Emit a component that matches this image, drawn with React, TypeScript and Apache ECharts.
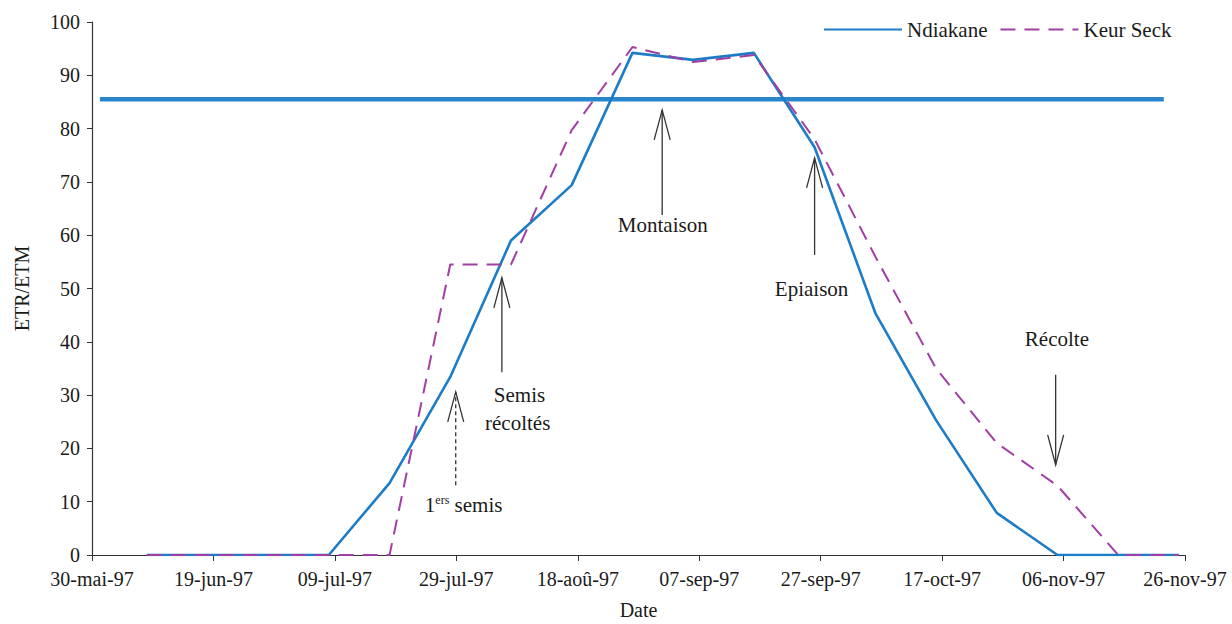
import { useEffect, useRef } from "react";
import * as echarts from "echarts";

// Day offsets from 30-mai-97
const days = [9, 19, 29, 39, 49, 59, 69, 79, 89, 99, 109, 119, 129, 139, 149, 159, 169, 179];
const ndiakane = [0, 0, 0, 0, 13.5, 33.4, 59, 69.4, 94.2, 92.9, 94.2, 76.5, 45.4, 25.3, 7.9, 0, 0, 0];
const keurSeck = [0, 0, 0, 0, 0, 54.5, 54.5, 79.7, 95.3, 92.5, 93.8, 78, 56, 35, 21, 13, 0, 0];
const refDays = [1.3, 176.5];
const refValues = [85.5, 85.5];
const xTickLabels = [
  "30-mai-97", "19-jun-97", "09-jul-97", "29-jul-97", "18-aoû-97",
  "07-sep-97", "27-sep-97", "17-oct-97", "06-nov-97", "26-nov-97",
];

const FONT = "Liberation Serif";
const TXT = "#1a1a1a";

// annotation arrows: x (day), tail value, tip value
const arrows = [
  { day: 93.9, tail: 63.8, tip: 83.5, dashed: false },
  { day: 119, tail: 56.3, tip: 74.5, dashed: false },
  { day: 67.5, tail: 34.3, tip: 52, dashed: false },
  { day: 59.9, tail: 13.1, tip: 30.6, dashed: true },
  { day: 158.7, tail: 33.8, tip: 16.9, dashed: false },
];
const labels = [
  { text: "Montaison", day: 94, value: 61.9 },
  { text: "Epiaison", day: 118.5, value: 49.9 },
  { text: "Semis", day: 70.4, value: 30 },
  { text: "récoltés", day: 70.1, value: 24.8 },
  { text: "{a|1}{s|ers}{a| semis}", day: 61.2, value: 9.4 },
  { text: "Récolte", day: 158.9, value: 40.5 },
];

export default function App() {
  const ref = useRef<HTMLDivElement>(null);
  useEffect(() => {
    document.body.style.margin = "0";
    const chart = echarts.init(ref.current!, null, { renderer: "svg" });
    const pair = (xs: number[], ys: number[]) => xs.map((x, i) => [x, ys[i]]);
    chart.setOption({
      animation: false,
      backgroundColor: "#ffffff",
      textStyle: { fontFamily: FONT },
      grid: { left: 92, right: 47, top: 22, bottom: 69, outerBoundsMode: "none", containLabel: false },
      legend: {
        left: 818,
        top: 14,
        itemWidth: 78,
        itemHeight: 14,
        itemGap: 12,
        data: ["Ndiakane", "Keur Seck"],
        itemStyle: { opacity: 0 },
        textStyle: { fontFamily: FONT, fontSize: 21, color: TXT },
      },
      xAxis: {
        type: "value",
        min: 0,
        max: 180,
        interval: 20,
        name: "Date",
        nameLocation: "middle",
        nameGap: 45,
        nameTextStyle: { fontFamily: FONT, fontSize: 20, color: TXT },
        axisLine: { lineStyle: { color: "#333", width: 1.2 } },
        axisTick: { show: true, length: 6, lineStyle: { color: "#333" } },
        splitLine: { show: false },
        axisLabel: {
          margin: 14,
          fontFamily: FONT,
          fontSize: 20,
          color: TXT,
          formatter: (v: number) => xTickLabels[Math.round(v / 20)] ?? "",
        },
      },
      yAxis: {
        type: "value",
        min: 0,
        max: 100,
        interval: 10,
        name: "ETR/ETM",
        nameLocation: "middle",
        nameGap: 60,
        nameTextStyle: { fontFamily: FONT, fontSize: 20, color: TXT },
        axisLine: { show: true, lineStyle: { color: "#333", width: 1.2 } },
        axisTick: { show: true, length: 5, lineStyle: { color: "#333" } },
        splitLine: { show: false },
        axisLabel: { margin: 12, fontFamily: FONT, fontSize: 20, color: TXT },
      },
      series: [
        {
          name: "Référence",
          type: "line",
          data: pair(refDays, refValues),
          symbol: "none",
          lineStyle: { color: "#2a86cc", width: 4.5 },
          z: 1,
        },
        {
          name: "Ndiakane",
          type: "line",
          data: pair(days, ndiakane),
          symbol: "none",
          color: "#1c7cc8",
          lineStyle: { color: "#1c7cc8", width: 2.6 },
          z: 3,
        },
        {
          name: "Keur Seck",
          type: "line",
          data: pair(days, keurSeck),
          symbol: "none",
          color: "#a03ea3",
          lineStyle: { color: "#a03ea3", width: 2, type: [15, 9] },
          z: 4,
        },
      ],
    });

    const px = (d: number, v: number) => chart.convertToPixel({ gridIndex: 0 }, [d, v]) as number[];
    const graphic: any[] = [];
    arrows.forEach((a) => {
      const t = px(a.day, a.tip);
      const s = px(a.day, a.tail);
      const dir = s[1] > t[1] ? 1 : -1;
      graphic.push({
        type: "line",
        shape: { x1: s[0], y1: s[1], x2: t[0], y2: t[1] },
        style: { stroke: "#333", lineWidth: 1.3, lineDash: a.dashed ? [4, 3] : null },
        z: 10,
      });
      graphic.push({
        type: "polyline",
        shape: { points: [[t[0] - 8, t[1] + 30 * dir], [t[0], t[1]], [t[0] + 8, t[1] + 30 * dir]] },
        style: { stroke: "#333", lineWidth: 1.3, fill: null },
        z: 10,
      });
    });
    labels.forEach((l) => {
      const p = px(l.day, l.value);
      graphic.push({
        type: "text",
        x: p[0],
        y: p[1],
        style: {
          text: l.text,
          fontFamily: FONT,
          fontSize: 21,
          fill: TXT,
          align: "center",
          verticalAlign: "middle",
          rich: {
            a: { fontFamily: FONT, fontSize: 21, fill: TXT },
            s: { fontFamily: FONT, fontSize: 12, fill: TXT, verticalAlign: "top", padding: [0, 0, 10, 0] },
          },
        },
        z: 10,
      });
    });
    chart.setOption({ graphic });
    return () => chart.dispose();
  }, []);
  return <div ref={ref} style={{ width: 1232, height: 624 }} />;
}
